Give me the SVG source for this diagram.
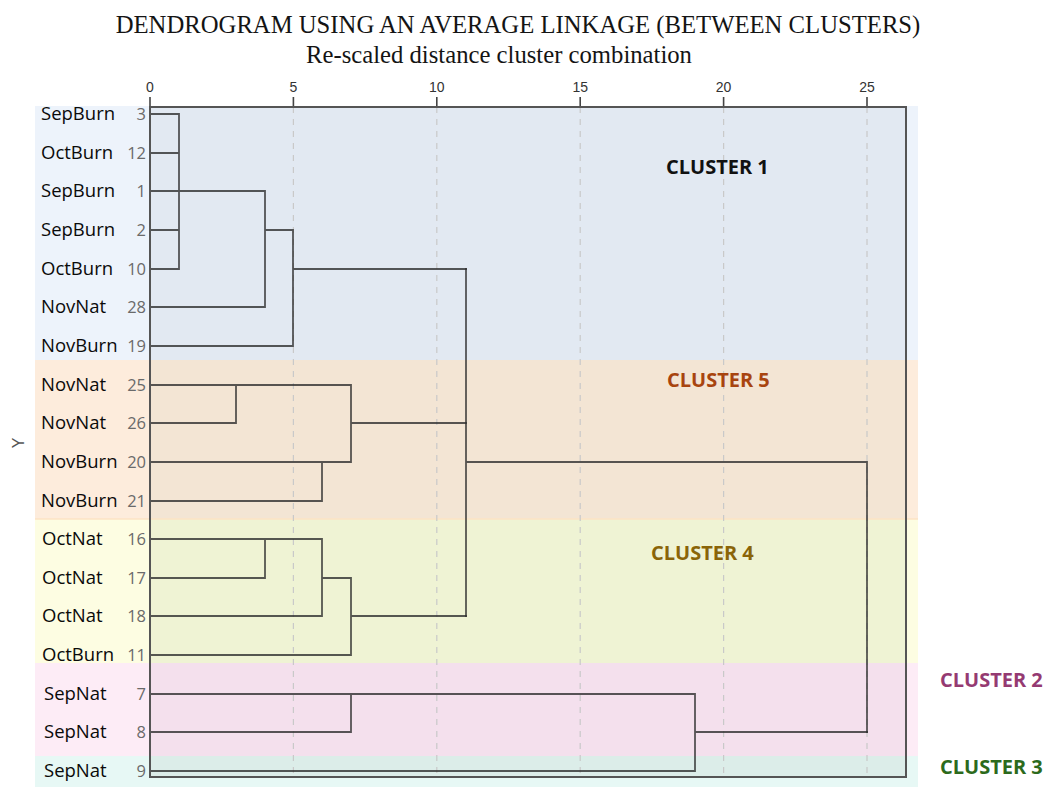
<svg xmlns="http://www.w3.org/2000/svg" width="1047" height="788" viewBox="0 0 1047 788">
<style>
.title{font-family:"Liberation Serif","Times New Roman",serif;font-size:24.7px;fill:#141414;}
.tick{font-family:"Liberation Sans",Arial,sans-serif;font-size:14px;fill:#333;text-anchor:middle;}
.name{font-family:"Open Sans","Noto Sans",sans-serif;font-size:18.5px;fill:#0a0a0a;}
.num{font-family:"Open Sans","Noto Sans",sans-serif;font-size:16.5px;fill:#6a6a6a;text-anchor:end;}
.cl{font-family:"Open Sans","Noto Sans",sans-serif;font-size:20px;font-weight:700;}
.grid{stroke:#c9c9c9;stroke-width:1.2;stroke-dasharray:6 6;fill:none;}
.link{stroke:#2e2e2e;stroke-opacity:0.8;stroke-width:1.8;fill:none;stroke-linecap:square;}
.frame{stroke:#555;stroke-width:2;fill:none;}
</style>
<rect x="0" y="0" width="1047" height="788" fill="#fff"/>
<g id="bands">
<rect x="35" y="106" width="883" height="254" fill="#edf3fb"/>
<rect x="35" y="360" width="883" height="159" fill="#fdecdc"/>
<rect x="35" y="519" width="883" height="144" fill="#fdfde2"/>
<rect x="35" y="663" width="883" height="93" fill="#fdecf6"/>
<rect x="35" y="756" width="883" height="31" fill="#e7f8f5"/>
<rect x="150" y="107" width="756" height="253" fill="#e2e9f2"/>
<rect x="150" y="360" width="756" height="159" fill="#f3e5d4"/>
<rect x="150" y="519" width="756" height="144" fill="#eff3d4"/>
<rect x="150" y="663" width="756" height="93" fill="#f4e0ed"/>
<rect x="150" y="756" width="756" height="21" fill="#dcede9"/>
<line x1="35" y1="519" x2="918" y2="519" stroke="#fde3c4" stroke-width="1.5"/>
</g>
<g id="titles">
<text class="title" x="518" y="33" text-anchor="middle">DENDROGRAM USING AN AVERAGE LINKAGE (BETWEEN CLUSTERS)</text>
<text class="title" x="499" y="63" text-anchor="middle">Re-scaled distance cluster combination</text>
<text x="24" y="443" transform="rotate(-90 24 443)" font-family="Liberation Sans, Arial, sans-serif" font-size="16" fill="#555" text-anchor="middle">Y</text>
</g>
<g id="axis">
<path class="grid" d="M293.4 107V777M436.8 107V777M580.2 107V777M723.6 107V777M867 107V777"/>
<path stroke="#444" stroke-width="1.6" d="M150 97V107M293.4 97V107M436.8 97V107M580.2 97V107M723.6 97V107M867 97V107"/>
<text class="tick" x="150" y="92">0</text>
<text class="tick" x="293.4" y="92">5</text>
<text class="tick" x="436.8" y="92">10</text>
<text class="tick" x="580.2" y="92">15</text>
<text class="tick" x="723.6" y="92">20</text>
<text class="tick" x="867" y="92">25</text>
</g>
<g id="connectors">
<path class="link" d="M150 114H179M150 153H179M150 230H179M150 269H179M179 114V269M150 191H265M265 191V307M150 307H265M265 230H293M293 230V346M150 346H293M293 269H466"/>
<path class="link" d="M150 385H351M236 385V423M150 423H236M150 462H351M322 462V501M150 501H322M351 385V462M351 423H466"/>
<path class="link" d="M150 539H322M265 539V578M150 578H265M150 616H322M322 539V616M322 578H351M150 655H351M351 578V655M351 616H466"/>
<path class="link" d="M466 269V616M466 462H867M867 462V732"/>
<path class="link" d="M150 694H695M351 694V732M150 732H351M695 694V771M150 771H695M695 732H867"/>
</g>
<rect class="frame" x="150" y="107" width="756" height="670"/>
<g id="leaf-3"><text class="name" x="41" y="120">SepBurn</text><text class="num" x="146" y="120">3</text></g>
<g id="leaf-12"><text class="name" x="41" y="159">OctBurn</text><text class="num" x="146" y="159">12</text></g>
<g id="leaf-1"><text class="name" x="41" y="197">SepBurn</text><text class="num" x="146" y="197">1</text></g>
<g id="leaf-2"><text class="name" x="41" y="236">SepBurn</text><text class="num" x="146" y="236">2</text></g>
<g id="leaf-10"><text class="name" x="41" y="275">OctBurn</text><text class="num" x="146" y="275">10</text></g>
<g id="leaf-28"><text class="name" x="41" y="313">NovNat</text><text class="num" x="146" y="313">28</text></g>
<g id="leaf-19"><text class="name" x="41" y="352">NovBurn</text><text class="num" x="146" y="352">19</text></g>
<g id="leaf-25"><text class="name" x="41" y="391">NovNat</text><text class="num" x="146" y="391">25</text></g>
<g id="leaf-26"><text class="name" x="41" y="429">NovNat</text><text class="num" x="146" y="429">26</text></g>
<g id="leaf-20"><text class="name" x="41" y="468">NovBurn</text><text class="num" x="146" y="468">20</text></g>
<g id="leaf-21"><text class="name" x="41" y="507">NovBurn</text><text class="num" x="146" y="507">21</text></g>
<g id="leaf-16"><text class="name" x="42" y="545">OctNat</text><text class="num" x="146" y="545">16</text></g>
<g id="leaf-17"><text class="name" x="42" y="584">OctNat</text><text class="num" x="146" y="584">17</text></g>
<g id="leaf-18"><text class="name" x="42" y="622">OctNat</text><text class="num" x="146" y="622">18</text></g>
<g id="leaf-11"><text class="name" x="42" y="661">OctBurn</text><text class="num" x="146" y="661">11</text></g>
<g id="leaf-7"><text class="name" x="44" y="700">SepNat</text><text class="num" x="146" y="700">7</text></g>
<g id="leaf-8"><text class="name" x="44" y="738">SepNat</text><text class="num" x="146" y="738">8</text></g>
<g id="leaf-9"><text class="name" x="44" y="777">SepNat</text><text class="num" x="146" y="777">9</text></g>
<g id="cluster-1"><text class="cl" x="666" y="174" fill="#111">CLUSTER 1</text></g>
<g id="cluster-5"><text class="cl" x="667" y="387" fill="#a8440f">CLUSTER 5</text></g>
<g id="cluster-4"><text class="cl" x="651" y="560" fill="#8a6408">CLUSTER 4</text></g>
<g id="cluster-2"><text class="cl" x="940" y="687" fill="#953a72">CLUSTER 2</text></g>
<g id="cluster-3"><text class="cl" x="940" y="774" fill="#2c6a1c">CLUSTER 3</text></g>
</svg>
